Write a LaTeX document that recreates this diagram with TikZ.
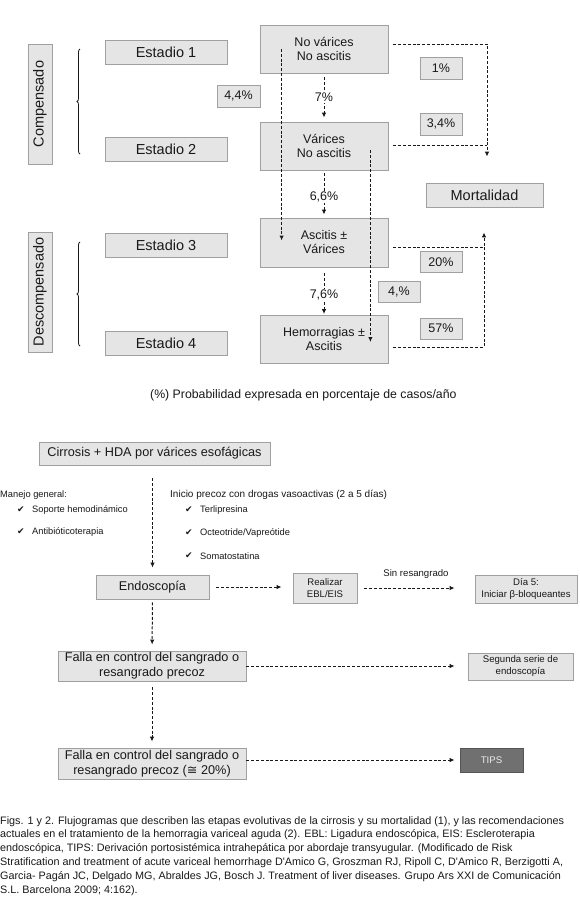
\documentclass[tikz,border=0pt]{standalone}
\usepackage{fontspec}
\setmainfont{Liberation Sans}
\newfontfamily\symf{DejaVu Sans}
\usetikzlibrary{arrows.meta,decorations.pathreplacing}
\definecolor{boxfill}{RGB}{229,229,229}
\definecolor{boxline}{RGB}{160,160,160}
\definecolor{tipsfill}{RGB}{112,112,112}
\definecolor{tipsline}{RGB}{85,85,85}
\definecolor{ink}{RGB}{25,25,25}
\begin{document}
\begin{tikzpicture}[x=1pt,y=-1pt,
  box/.style={draw=boxline,fill=boxfill,line width=0.8pt,inner sep=0pt,align=center,text=ink},
  dl/.style={ink,line width=1pt,dash pattern=on 3pt off 1.8pt,-{Latex[length=5pt,width=4.5pt]}},
  dn/.style={ink,line width=1pt,dash pattern=on 3pt off 1.8pt},
  big/.style={font=\fontsize{14.5}{16}\selectfont},
  med/.style={font=\fontsize{12.5}{14}\selectfont},
  mdb/.style={font=\fontsize{12.7}{15}\selectfont},
  sml/.style={font=\fontsize{9.6}{12}\selectfont},
  lst/.style={font=\fontsize{9.3}{11}\selectfont,anchor=west,inner sep=0pt,text=ink},
  chk/.style={font=\symf\fontsize{9}{11}\selectfont,anchor=west,inner sep=0pt,text=ink},
  lbl/.style={fill=white,inner sep=1pt,text=ink,font=\fontsize{12.5}{14}\selectfont},
  capf/.style={font=\fontsize{10.8}{12}\selectfont,anchor=base west,inner sep=0pt,text=ink},
  stage/.style={box,big,minimum width=122pt,minimum height=24pt},
  state/.style={box,med,minimum width=128pt,minimum height=48pt},
  pct/.style={box,med,minimum width=42pt,minimum height=22pt},
  brc/.style={ink,line width=0.8pt,decorate,decoration={brace,amplitude=3pt}}
]
\useasboundingbox[fill=white] (0,0) rectangle (580,906);

% ---------- Figure 1 ----------
\node[box,big,rotate=90,minimum width=120pt,minimum height=24pt] (comp) at (40,104) {Compensado};
\node[box,big,rotate=90,minimum width=120pt,minimum height=24pt] (desc) at (40,292) {Descompensado};
\draw[brc] (80,154) -- (80,49);
\draw[brc] (80,346) -- (80,242);

\node[stage] (e1) at (166,52) {Estadio 1};
\node[stage] (e2) at (166,149) {Estadio 2};
\node[stage] (e3) at (166,245) {Estadio 3};
\node[stage] (e4) at (166,343) {Estadio 4};

\node[state] (s1) at (324,49) {No várices\\No ascitis};
\node[state] (s2) at (324,146) {Várices\\No ascitis};
\node[state,minimum height=49pt] (s3) at (324,242.5) {Ascitis ±\\Várices};
\node[state] (s4) at (324,339) {Hemorragias ±\\Ascitis};

\node[box,big,minimum width=117pt,minimum height=24pt] (mort) at (484.5,195) {Mortalidad};

\node[pct,minimum width=43pt] (p44) at (238.5,96) {4,4\%};
\node[pct] (p1) at (441,68) {1\%};
\node[pct] (p34) at (441,124) {3,4\%};
\node[pct,minimum height=21pt] (p20) at (441,262) {20\%};
\node[pct,minimum height=21pt] (p4) at (399,292) {4,\%};
\node[pct,minimum height=21pt] (p57) at (441,328.5) {57\%};

\draw[dl] ([xshift=22pt]s1.west) -- ([xshift=22pt,yshift=2pt]s3.west);
\draw[dl,shorten <=4pt,shorten >=4pt] (s1) -- (s2) node[midway,lbl]{7\%};
\draw[dl,shorten <=3pt,shorten >=3pt] (s2) -- (s3) node[pos=0.56,lbl]{6,6\%};
\draw[dl,shorten <=6pt,shorten >=0.5pt] (s3) -- (s4) node[pos=0.58,lbl]{7,6\%};
\draw[dl] ([xshift=-18pt,yshift=-4pt]s2.east) -- ([xshift=-18pt,yshift=-3pt]s4.east);

\coordinate (mtop) at ([xshift=2.5pt,yshift=26pt]mort.north);
\coordinate (mbot) at ([xshift=-0.5pt,yshift=-25pt]mort.south);
\coordinate (a2) at ([xshift=5pt,yshift=1pt]s2.east);
\coordinate (a3) at ([xshift=5pt,yshift=-4.5pt]s3.east);
\draw[dl] ([xshift=5pt,yshift=5pt]s1.east) -| (mtop);
\draw[dn] (a2) -- (a2 -| mtop);
\draw[dl] ([xshift=5pt,yshift=-8pt]s4.east) -| (mbot);
\draw[dn] (a3) -- (a3 -| mbot);

\node[anchor=west,inner sep=0pt,text=ink,font=\fontsize{12.3}{14}\selectfont] (prob) at (150,395) {(\%) Probabilidad expresada en porcentaje de casos/año};

% ---------- Figure 2 ----------
\node[box,mdb,minimum width=231pt,minimum height=23pt] (cirr) at (154.5,453.5) {Cirrosis + HDA por várices esofágicas};

\node[lst] (mg) at (0,495) {Manejo general:};
\node[chk] (k1) at (17,510) {✔};
\node[lst] (l1) at (32,510) {Soporte hemodinámico};
\node[chk] (k2) at (17,532) {✔};
\node[lst] (l2) at (32,532) {Antibióticoterapia};

\node[lst,font=\fontsize{10}{12}\selectfont] (ip) at (170,495) {Inicio precoz con drogas vasoactivas (2 a 5 días)};
\node[chk] (k3) at (185,510) {✔};
\node[lst] (r1) at (200,510) {Terlipresina};
\node[chk] (k4) at (185,533) {✔};
\node[lst] (r2) at (200,533) {Octeotride/Vapreótide};
\node[chk] (k5) at (185,556) {✔};
\node[lst] (r3) at (200,556) {Somatostatina};

\node[box,mdb,minimum width=113pt,minimum height=24pt] (endo) at (152.5,587) {Endoscopía};
\node[box,sml,minimum width=64pt,minimum height=30pt] (real) at (325,588) {Realizar\\EBL/EIS};
\node[box,sml,minimum width=102pt,minimum height=28pt] (dia) at (526,589) {Día 5:\\Iniciar β-bloqueantes};
\node[box,mdb,minimum width=188pt,minimum height=30pt] (f1) at (152,666) {Falla en control del sangrado o\\resangrado precoz};
\node[box,sml,minimum width=105pt,minimum height=27pt] (seg) at (520.5,666.5) {Segunda serie de\\endoscopía};
\node[box,mdb,minimum width=188pt,minimum height=31pt] (f2) at (152,763.5) {Falla en control del sangrado o\\resangrado precoz ({\symf ≅} 20\%)};
\node[box,sml,draw=tipsline,fill=tipsfill,text=white!93!black,minimum width=63pt,minimum height=24pt] (tips) at (491.5,760) {TIPS};

\draw[dl,shorten <=13pt,shorten >=7pt] (cirr.south -| endo.north) -- (endo.north);
\draw[dl,shorten <=3pt,shorten >=6pt] (endo) -- (f1);
\draw[dl,shorten <=6pt,shorten >=6pt] (f1) -- (f2);
\draw[dl,shorten <=7pt,shorten >=11pt] (endo.east) -- (endo.east -| real.west);
\draw[dl,shorten <=7pt,shorten >=20pt] (real.east) -- (real.east -| dia.west)
  node[midway,yshift=14pt,sml,text=ink] (sr) {Sin resangrado};
\draw[dl,shorten >=13pt] (f1.east) -- (f1.east -| seg.west);
\draw[dl,shorten >=5pt] (f2.east |- tips.west) -- (tips.west);

% ---------- caption ----------
\node[capf] (c1) at (0,824) {Figs. 1 y 2. Flujogramas que describen las etapas evolutivas de la cirrosis y su mortalidad (1), y las recomendaciones};
\node[capf] (c2) at (0,837.8) {actuales en el tratamiento de la hemorragia variceal aguda (2). EBL: Ligadura endoscópica, EIS: Escleroterapia};
\node[capf] (c3) at (0,851.6) {endoscópica, TIPS: Derivación portosistémica intrahepática por abordaje transyugular. (Modificado de Risk};
\node[capf] (c4) at (0,865.4) {Stratification and treatment of acute variceal hemorrhage D\textquotesingle Amico G, Groszman RJ, Ripoll C, D\textquotesingle Amico R, Berzigotti A,};
\node[capf] (c5) at (0,879.2) {Garcia- Pagán JC, Delgado MG, Abraldes JG, Bosch J. Treatment of liver diseases. Grupo Ars XXI de Comunicación};
\node[capf] (c6) at (0,893) {S.L. Barcelona 2009; 4:162).};
\end{tikzpicture}
\end{document}
